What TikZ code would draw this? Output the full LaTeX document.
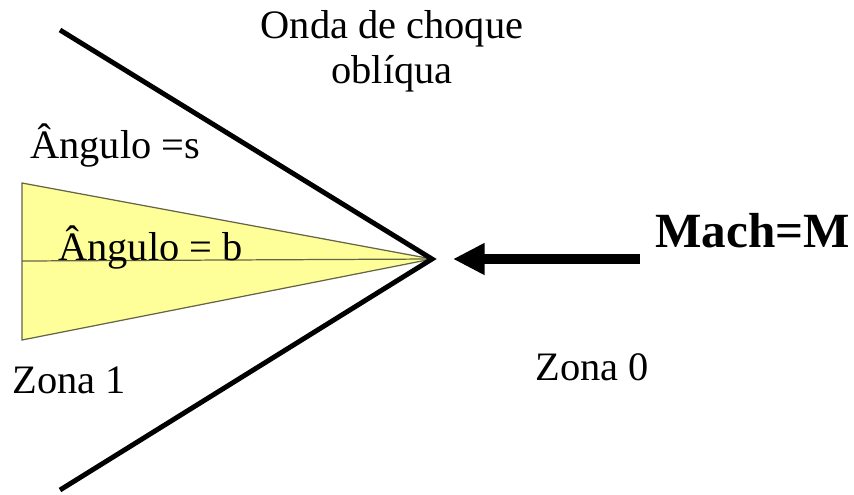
\documentclass[tikz,border=0pt]{standalone}
\usepackage{fontspec}
\setmainfont{Liberation Serif}
\definecolor{wedgefill}{RGB}{255, 255, 153}
\definecolor{wedgeedge}{RGB}{100, 100, 70}
\usetikzlibrary{arrows.meta}

\begin{document}
\begin{tikzpicture}[x=0.02cm, y=-0.02cm,
  lbl/.style={font=\fontsize{23}{27}\selectfont, inner sep=0pt}]
  \useasboundingbox (0,0) rectangle (854,494);

  % Wedge
  \coordinate (apex) at (432,259);
  \coordinate (wtop) at (22,183);
  \coordinate (wbot) at (22,340);
  \coordinate (wmid) at (22,261);
  \filldraw[fill=wedgefill, draw=wedgeedge, line width=0.7pt] (wtop) -- (apex) -- (wbot) -- cycle;
  \draw[wedgeedge, line width=0.7pt] (wmid) -- (apex);

  % Oblique shock
  \coordinate (stop) at (60,30);
  \coordinate (sbot) at (60,490);
  \draw[line width=2.8pt, line join=miter] (stop) -- (apex) -- (sbot);

  % Incoming flow
  \coordinate (flow) at (640,259);
  \coordinate (tip) at (453,259);
  \draw[line width=5.5pt, -{Triangle[length=18pt, width=17pt]}] (flow) -- (tip);

  % Labels
  \node[lbl, anchor=base] (onda) at (392,38) {Onda de choque};
  \node[lbl, anchor=base] (obl) at (392,83) {oblíqua};
  \node[lbl, anchor=base west] (angs) at (30,158) {Ângulo =s};
  \node[lbl, anchor=base west] (angb) at (58,260) {Ângulo = b};
  \node[font=\bfseries\fontsize{28}{32}\selectfont, inner sep=0pt, anchor=base west] (mach) at (655,247) {Mach=M};
  \node[lbl, anchor=base west] (zona1) at (12,393) {Zona 1};
  \node[lbl, anchor=base west] (zona0) at (535,380) {Zona 0};
\end{tikzpicture}
\end{document}
